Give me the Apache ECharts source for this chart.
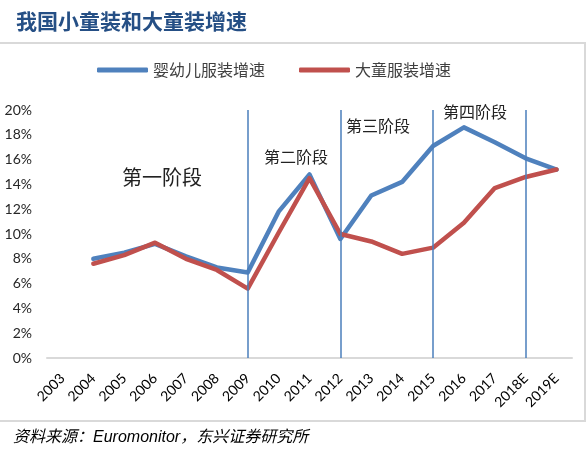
<!DOCTYPE html>
<html>
<head>
<meta charset="utf-8">
<script src="https://cdn.jsdelivr.net/npm/echarts@6/dist/echarts.min.js"></script>
<style>
html,body{margin:0;padding:0;background:#fff;}
#chart{width:587px;height:457px;}
</style>
</head>
<body>
<div id="chart"></div>
<script>
const categories = ['2003','2004','2005','2006','2007','2008','2009','2010','2011','2012','2013','2014','2015','2016','2017','2018E','2019E'];
const infantGrowth = [null, 8.0, 8.5, 9.2, 8.2, 7.3, 6.9, 11.8, 14.8, 9.6, 13.1, 14.2, 17.1, 18.6, 17.4, 16.1, 15.2];
const olderGrowth  = [null, 7.6, 8.3, 9.3, 8.0, 7.1, 5.6, 10.1, 14.5, 10.0, 9.4, 8.4, 8.9, 10.9, 13.7, 14.6, 15.2];
const seriesNames = ['婴幼儿服装增速', '大童服装增速'];
const stageLines = ['2009', '2012', '2015', '2018E'];
const stageLabels = ['第一阶段', '第二阶段', '第三阶段', '第四阶段'];
const titleText = '我国小童装和大童装增速';
const sourceText = '资料来源：Euromonitor，东兴证券研究所';

const cjk = '"Noto Sans CJK SC", "Noto Sans", sans-serif';
const chart = echarts.init(document.getElementById('chart'), null, {renderer: 'canvas'});
chart.setOption({
  animation: false,
  backgroundColor: '#fff',
  title: {
    text: titleText, left: 11, top: 6,
    textStyle: {fontFamily: cjk, fontSize: 21, fontWeight: 'bold', color: '#254F85'}
  },
  legend: {
    left: 92, top: 57, icon: 'roundRect', itemWidth: 51, itemHeight: 5, itemGap: 34,
    textStyle: {fontFamily: cjk, fontSize: 16, color: '#404040'},
    data: seriesNames
  },
  grid: {left: 47, right: 15, top: 110, bottom: 99},
  xAxis: {
    type: 'category', data: categories, boundaryGap: true,
    axisLine: {lineStyle: {color: '#d9d9d9', width: 2}},
    axisTick: {show: false},
    axisLabel: {rotate: 45, fontFamily: 'Lato, "Noto Sans", sans-serif', fontSize: 14, color: '#000', margin: 18, interval: 0}
  },
  yAxis: {
    type: 'value', min: 0, max: 20, interval: 2,
    axisLine: {show: false}, axisTick: {show: false}, splitLine: {show: false},
    axisLabel: {formatter: '{value}%', fontFamily: 'Lato, "Noto Sans", sans-serif', fontSize: 14, color: '#262626', margin: 15}
  },
  series: [
    {
      name: seriesNames[0], type: 'line', data: infantGrowth, showSymbol: false, symbol: 'none',
      lineStyle: {color: '#4F81BD', width: 4.5, cap: 'round', join: 'round'}, itemStyle: {color: '#4F81BD'},
      z: 3,
      markLine: {
        silent: true, symbol: 'none', animation: false,
        label: {show: false},
        lineStyle: {color: '#4A7EBB', width: 1.5, type: 'solid'},
        data: stageLines.map(c => ({xAxis: c}))
      }
    },
    {
      name: seriesNames[1], type: 'line', data: olderGrowth, showSymbol: false, symbol: 'none',
      lineStyle: {color: '#C0504D', width: 4.5, cap: 'round', join: 'round'}, itemStyle: {color: '#C0504D'},
      z: 4
    }
  ],
  graphic: [
    {type: 'rect', shape: {x: -2, y: 43, width: 587, height: 378}, style: {fill: 'none', stroke: '#d9d9d9', lineWidth: 2}, silent: true, z: -1},
    {type: 'text', left: 122, top: 167, style: {text: stageLabels[0], font: '20px ' + cjk, fill: '#222'}},
    {type: 'text', left: 264, top: 149, style: {text: stageLabels[1], font: '16px ' + cjk, fill: '#222'}},
    {type: 'text', left: 346, top: 118, style: {text: stageLabels[2], font: '16px ' + cjk, fill: '#222'}},
    {type: 'text', left: 443, top: 104, style: {text: stageLabels[3], font: '16px ' + cjk, fill: '#222'}},
    {type: 'text', left: 13, top: 430, style: {text: sourceText, font: 'italic 16px "Liberation Sans", "Noto Sans CJK SC", sans-serif', fill: '#000'}}
  ]
});
</script>
</body>
</html>
